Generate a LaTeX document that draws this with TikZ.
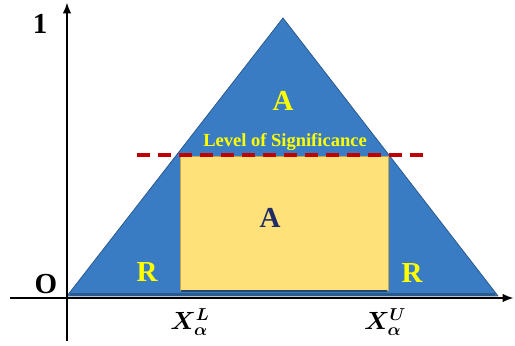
\documentclass[tikz,border=0pt]{standalone}
\usepackage{fontspec}
\setmainfont{Liberation Serif}
\usepackage{amsmath,bm}
\usetikzlibrary{arrows.meta}
\definecolor{SIGblue}{HTML}{3A7CC3}
\definecolor{SIGdark}{HTML}{2A5A8E}
\definecolor{SIGpale}{HTML}{FFE17A}
\definecolor{SIGedge}{HTML}{C9A54C}
\definecolor{SIGyell}{HTML}{FFFF00}
\definecolor{SIGred}{HTML}{C00000}
\definecolor{SIGnavy}{HTML}{1F2C66}
\tikzset{sigaxis/.style={line width=2.8pt,-{Latex[length=4mm,width=3mm]}},
 sigtri/.style={fill=SIGblue,draw=SIGdark,line width=0.8pt,line join=round},
 sigbox/.style={fill=SIGpale,draw=SIGedge,line width=1pt},
 siglabel/.style={font=\bfseries\fontsize{29}{31}\selectfont,inner sep=0pt},
 sigcut/.style={draw=SIGred,line width=3.2pt,dash pattern=on 13pt off 8pt}}

\begin{document}
\begin{tikzpicture}[x=1pt,y=1pt]
\useasboundingbox (0,0) rectangle (515,346);
% points of the picture
\coordinate (orig) at (67,48);
\coordinate (tl) at (67,50);
\coordinate (tr) at (498,50);
\coordinate (top) at (283,328);
% region of rejection and acceptance
\draw[sigtri] (tl)--(top)--(tr)--cycle;
\draw[SIGdark,line width=3pt] (70,51)--(495,51);
\draw[sigbox] (180,55) rectangle (388,189);
\draw[SIGdark!80!black,line width=2pt] (181,55)--(387,55);
% level line
\coordinate (cutL) at (137,191);
\coordinate (cutR) at (430,191);
\draw[sigcut] (cutL)--(cutR);
% axes
\coordinate (ybot) at (67,5);
\coordinate (ytop) at (67,344);
\coordinate (xlft) at (10,48);
\coordinate (xrgt) at (514,48);
\draw[sigaxis] (ybot)--(ytop);
\draw[sigaxis] (xlft)--(xrgt);
% texts
\node[siglabel] (one) at (40,322) {1};
\node[siglabel] (zero) at (46,62) {O};
\node[siglabel,text=SIGyell] (accup) at (283,245) {A};
\node[inner sep=0pt,text=SIGyell,font=\bfseries\fontsize{18.5}{20}\selectfont] (level) at (285,204) {Level of Significance};
\node[siglabel,text=SIGnavy] (accmid) at (270,128) {A};
\node[siglabel,text=SIGyell] (rejl) at (147,74) {R};
\node[siglabel,text=SIGyell] (rejr) at (412,73) {R};
\node[inner sep=0pt,font=\fontsize{27}{29}\selectfont] (xl) at (190,24) {$\bm{X_{\alpha}^{L}}$};
\node[inner sep=0pt,font=\fontsize{27}{29}\selectfont] (xu) at (385,24) {$\bm{X_{\alpha}^{U}}$};
\end{tikzpicture}
\end{document}
